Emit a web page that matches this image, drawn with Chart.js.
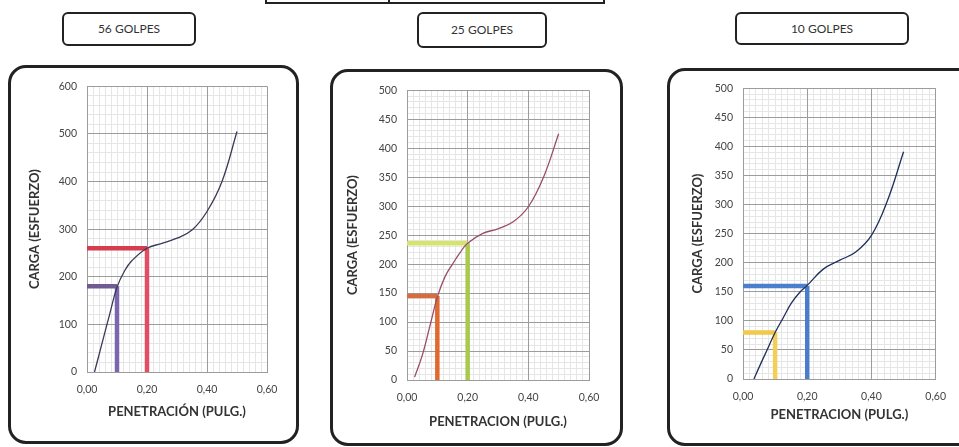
<!DOCTYPE html>
<html>
<head>
<meta charset="utf-8">
<script src="https://cdn.jsdelivr.net/npm/chart.js@4"></script>
<style>
  html, body { margin: 0; padding: 0; background: #fff; }
  body { position: relative; width: 959px; height: 447px; overflow: hidden; font-family: Lato, "Open Sans", sans-serif; }
  .box { position: absolute; border: 3px solid #222; border-radius: 18px; box-sizing: border-box; }
  .tag { position: absolute; border: 2px solid #222; border-radius: 6px; box-sizing: border-box;
         font-size: 12px; color: #333; text-align: center; }
  .top { position: absolute; border: 2px solid #222; box-sizing: border-box; }
  canvas { position: absolute; }
</style>
</head>
<body>

<!-- tabla cortada arriba -->
<div class="top" style="left:265px; top:-20px; width:340px; height:24px;"></div>
<div class="top" style="left:388px; top:-20px; width:2px; height:24px; border-width:0 0 0 2px;"></div>

<div class="tag" style="left:62px; top:12px; width:134px; height:34px; line-height:30px;">56 GOLPES</div>
<div class="tag" style="left:417px; top:12px; width:130px; height:36px; line-height:32px;">25 GOLPES</div>
<div class="tag" style="left:735px; top:12px; width:174px; height:33px; line-height:29px;">10 GOLPES</div>

<div class="box" style="left:8px; top:65px; width:291px; height:379px;"></div>
<div class="box" style="left:330px; top:69px; width:293px; height:377px;"></div>
<div class="box" style="left:667px; top:68px; width:310px; height:378px;"></div>

<canvas id="c56" width="282" height="370" style="left:12px; top:70px;"></canvas>
<canvas id="c25" width="286" height="368" style="left:334px; top:74px;"></canvas>
<canvas id="c10" width="286" height="370" style="left:671px; top:72px;"></canvas>

<script>
/* etiquetas del eje x (coma decimal) */
const xTickLabels = ['0,00', '0,20', '0,40', '0,60'];

/* 56 golpes */
const pen56   = [0.025, 0.05, 0.075, 0.10, 0.125, 0.15, 0.20, 0.25, 0.30, 0.35, 0.40, 0.45, 0.50];
const carga56 = [0, 60, 120, 178, 212, 234, 260, 270, 281, 298, 337, 400, 505];
const marcaPen56   = [0.10, 0.20];
const marcaCarga56 = [180, 260];

/* 25 golpes */
const pen25   = [0.025, 0.05, 0.075, 0.10, 0.125, 0.15, 0.175, 0.20, 0.25, 0.30, 0.35, 0.40, 0.45, 0.50];
const carga25 = [5, 42, 92, 143, 178, 200, 220, 236, 253, 261, 273, 299, 350, 425];
const marcaPen25   = [0.10, 0.20];
const marcaCarga25 = [145, 236];

/* 10 golpes */
const pen10   = [0.034, 0.05, 0.075, 0.10, 0.125, 0.15, 0.175, 0.20, 0.25, 0.30, 0.35, 0.40, 0.45, 0.50];
const carga10 = [0, 20, 50, 80, 105, 130, 148, 161, 189, 204, 218, 247, 307, 391];
const marcaPen10   = [0.10, 0.20];
const marcaCarga10 = [80, 160];

const TICK_FONT  = { family: 'Lato', size: 10.5 };
const TITLE_FONT = { family: 'Lato', size: 13, weight: 'bold' };

/*
  Builds one CBR chart. Layout numbers are page pixels taken from the
  reference; paddings are derived so the plot area lands on them.
  Chart.js adds ~6px on top for the last y tick label.
*/
function makeChart(id, d, lay) {
  const [cl, ct, cw, ch] = lay.canvas;
  const [pl, pr, pt, pb] = lay.plot;
  const titleHalf = TITLE_FONT.size * 1.2 / 2;

  const datasets = [{
    data: d.pen.map((x, i) => ({ x, y: d.carga[i] })),
    borderColor: d.curveColor,
    borderWidth: 1.3,
    pointRadius: 0,
    tension: 0.4,
    order: 0
  }];

  /* lineas de lectura a 0,1" y 0,2" */
  d.marcaPen.forEach((p, i) => {
    const v = d.marcaCarga[i];
    datasets.push({
      data: [{ x: 0, y: v }, { x: p, y: v }],
      borderColor: d.hColors[i], borderWidth: 4.5, pointRadius: 0, tension: 0, order: 1
    });
    datasets.push({
      data: [{ x: p, y: v }, { x: p, y: 0 }],
      borderColor: d.vColors[i], borderWidth: 4.5, pointRadius: 0, tension: 0, order: 1
    });
  });

  return new Chart(document.getElementById(id), {
    type: 'line',
    data: { datasets },
    options: {
      responsive: false,
      animation: false,
      layout: {
        padding: { left: 4, top: pt - ct - 6, right: cl + cw - pr, bottom: 0 }
      },
      plugins: { legend: { display: false }, tooltip: { enabled: false } },
      scales: {
        xm: {
          type: 'linear', position: 'bottom', min: 0, max: 0.6, z: -1,
          ticks: { display: false, stepSize: 0.02, maxTicksLimit: 1000 },
          grid: { color: '#e6e6e6', drawTicks: false },
          border: { display: false },
          afterFit: (s) => { s.height = 0; }
        },
        ym: {
          type: 'linear', position: 'left', min: 0, max: d.yMax, z: -1,
          ticks: { display: false, stepSize: d.yMinor, maxTicksLimit: 1000 },
          grid: { color: '#e6e6e6', drawTicks: false },
          border: { display: false },
          afterFit: (s) => { s.width = 0; }
        },
        x: {
          type: 'linear', position: 'bottom', min: 0, max: 0.6,
          ticks: {
            stepSize: 0.2, font: TICK_FONT, color: '#444', padding: 11, maxRotation: 0,
            callback: (v, i) => xTickLabels[i]
          },
          grid: { color: '#9c9c9c', drawTicks: false },
          border: { color: '#9c9c9c' },
          title: {
            display: true, text: d.xTitle, font: TITLE_FONT, color: '#333',
            padding: { top: 0, bottom: (ct + ch) - lay.xTitleY - titleHalf }
          },
          afterFit: (s) => { s.height = ct + ch - pb; }
        },
        y: {
          type: 'linear', position: 'left', min: 0, max: d.yMax,
          ticks: { stepSize: d.yStep, font: TICK_FONT, color: '#444', padding: 10 },
          grid: { color: '#9c9c9c', drawTicks: false },
          border: { color: '#9c9c9c' },
          title: {
            display: true, text: 'CARGA (ESFUERZO)', font: TITLE_FONT, color: '#333',
            padding: { top: lay.yTitleX - (cl + 4) - titleHalf, bottom: 0 }
          },
          afterFit: (s) => { s.width = pl - cl - 4; }
        }
      }
    }
  });
}

makeChart('c56', {
  pen: pen56, carga: carga56, marcaPen: marcaPen56, marcaCarga: marcaCarga56,
  curveColor: '#3a3a58', hColors: ['#6e5b92', '#d63c4e'], vColors: ['#7a66ae', '#e24d63'],
  yMax: 600, yStep: 100, yMinor: 20, xTitle: 'PENETRACIÓN (PULG.)'
}, { canvas: [12, 70, 282, 370], plot: [87, 267, 87, 372], yTitleX: 35, xTitleY: 412 });

makeChart('c25', {
  pen: pen25, carga: carga25, marcaPen: marcaPen25, marcaCarga: marcaCarga25,
  curveColor: '#9a4d66', hColors: ['#d46e3e', '#d6e46c'], vColors: ['#e0692f', '#a8c84e'],
  yMax: 500, yStep: 50, yMinor: 10, xTitle: 'PENETRACION (PULG.)'
}, { canvas: [334, 74, 286, 368], plot: [407, 589, 90, 380], yTitleX: 353, xTitleY: 422 });

makeChart('c10', {
  pen: pen10, carga: carga10, marcaPen: marcaPen10, marcaCarga: marcaCarga10,
  curveColor: '#1f2f5c', hColors: ['#f0c84a', '#4d7fcf'], vColors: ['#f3cf5a', '#4a7ccc'],
  yMax: 500, yStep: 50, yMinor: 10, xTitle: 'PENETRACION (PULG.)'
}, { canvas: [671, 72, 286, 370], plot: [743, 938, 90, 379], yTitleX: 698, xTitleY: 415 });
</script>
</body>
</html>
